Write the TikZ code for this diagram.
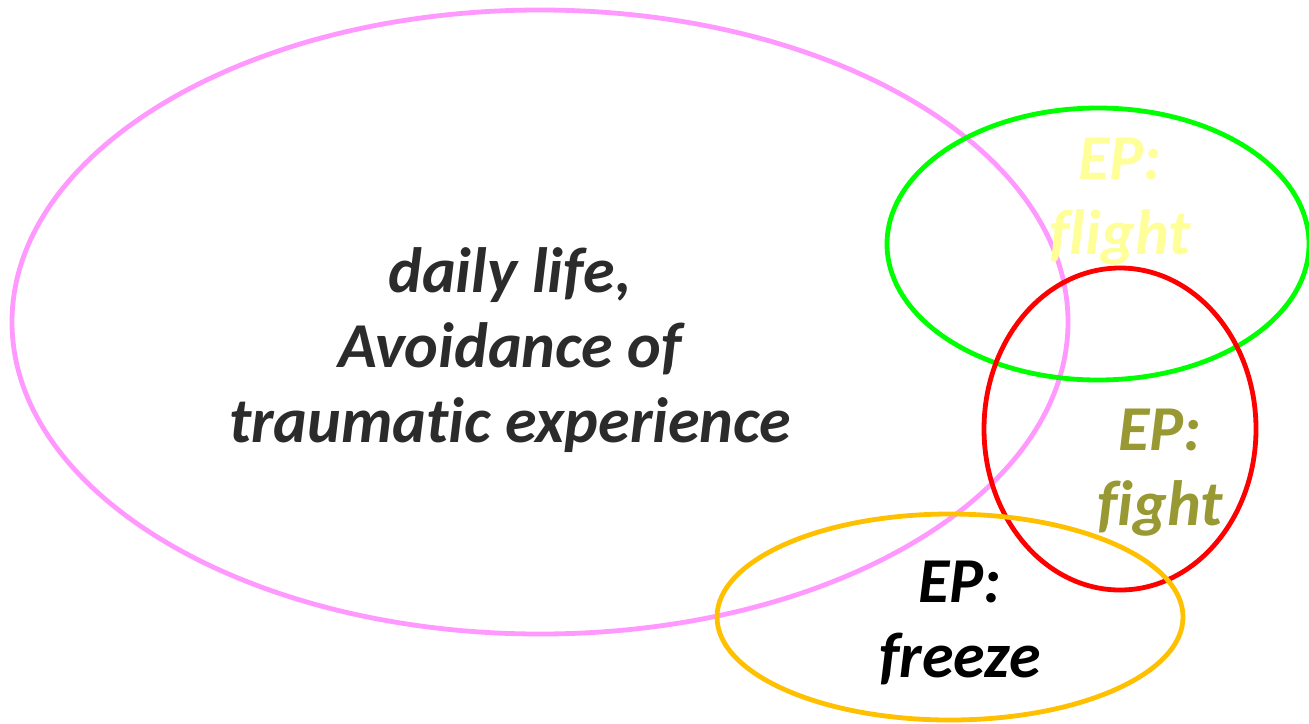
\documentclass[tikz,border=0pt]{standalone}
\usepackage{fontspec}
\setmainfont[Ligatures=NoCommon,RawFeature={-liga;-clig;-dlig}]{Carlito}
\definecolor{pinkc}{HTML}{FF99FF}
\definecolor{greenc}{HTML}{00FF00}
\definecolor{redc}{HTML}{FF0000}
\definecolor{orangec}{HTML}{FFC000}
\definecolor{lightyel}{HTML}{FFFF99}
\definecolor{olive}{HTML}{999933}
\definecolor{darkg}{HTML}{2B2B2B}
\begin{document}
\begin{tikzpicture}[x=0.5pt,y=-0.5pt,
  ring/.style={line width=2.4pt},
  lbl/.style={align=center,inner sep=0pt,font=\fontsize{32pt}{37.5pt}\selectfont\bfseries\itshape}]
\useasboundingbox (0,0) rectangle (1309,723);
\draw[ring,pinkc] (540,322) ellipse [x radius=528,y radius=312];
\draw[ring,greenc] (1098,244) ellipse [x radius=211,y radius=136];
\draw[ring,redc] (1120,429) ellipse [x radius=136,y radius=161];
\draw[ring,orangec] (950,617) ellipse [x radius=233,y radius=103];
\node[lbl,darkg] (main) at (510,350) {daily lif\kern0pt e,\\Avoidance of\\traumat\kern0pt ic experience};
\node[lbl,lightyel] (flight) at (1120,202) {EP:\\f\kern0pt light};
\node[lbl,olive] (fight) at (1160,473) {EP:\\f\kern0pt ight};
\node[lbl,black] (freeze) at (960,623) {EP:\\freeze};
\end{tikzpicture}
\end{document}
